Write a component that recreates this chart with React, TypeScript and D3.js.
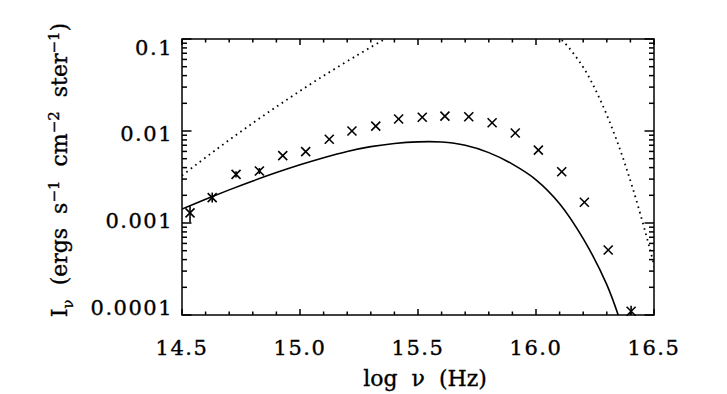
import React from 'react';
import * as d3 from 'd3';

// observed points: log nu (Hz) and I_nu
const obsNu = [14.534, 14.628, 14.729, 14.828, 14.927, 15.024, 15.124, 15.22, 15.321, 15.418,
  15.518, 15.614, 15.715, 15.814, 15.912, 16.01, 16.109, 16.205, 16.306, 16.403];
const obsFlux = [0.00129, 0.00189, 0.00338, 0.00367, 0.0054, 0.00596, 0.00813, 0.01, 0.0113, 0.0135,
  0.0141, 0.0145, 0.0143, 0.0123, 0.0095, 0.0062, 0.00361, 0.00168, 0.000509, 0.00011];
// error bars (NaN = none)
const errLow = [0.00101, 0.00167, 0.00313, 0.0034, NaN, NaN, NaN, NaN, NaN, NaN,
  NaN, NaN, NaN, NaN, NaN, NaN, NaN, NaN, NaN, 0.000097];
const errHigh = [0.00157, 0.00214, 0.00365, 0.00396, NaN, NaN, NaN, NaN, NaN, NaN,
  NaN, NaN, NaN, NaN, NaN, NaN, NaN, NaN, NaN, 0.000126];

// solid model curve
const modelNu = [14.5, 14.6, 14.7, 14.8, 14.9, 15.0, 15.1, 15.2, 15.3, 15.4,
  15.5, 15.6, 15.7, 15.8, 15.9, 16.0, 16.1, 16.2, 16.3, 16.36];
const modelFlux = [0.001419, 0.001811, 0.002291, 0.002864, 0.003532, 0.004295, 0.005129, 0.005998, 0.006761, 0.007328,
  0.007621, 0.007586, 0.006998, 0.005821, 0.004365, 0.002951, 0.001622, 0.000676, 0.000214, 0.0000813];

// dotted curve, rising and falling branches
const riseNu = [14.5, 14.65, 14.8, 14.95, 15.1, 15.25, 15.36, 15.45];
const riseFlux = [0.00328, 0.00643, 0.01219, 0.02239, 0.03981, 0.06839, 0.1, 0.1343];
const fallNu = [16.05, 16.113, 16.2, 16.271, 16.342, 16.412, 16.483, 16.52];
const fallFlux = [0.1233, 0.0951, 0.0492, 0.0221, 0.00793, 0.00229, 0.000518, 0.000217];

const xTicks = [14.5, 15.0, 15.5, 16.0, 16.5];
const xTickLabels = ['14.5', '15.0', '15.5', '16.0', '16.5'];
const yTicks = [0.0001, 0.001, 0.01, 0.1];
const yTickLabels = ['0.0001', '0.001', '0.01', '0.1'];

const W = 727;
const H = 394;
const left = 182, right = 654, top = 39, bottom = 315;
const font = '"DejaVu Serif", serif';

const App = () => {
  const x = d3.scaleLinear().domain([14.5, 16.5]).range([left, right]);
  const y = d3.scaleLog().domain([0.0001, 0.1]).range([bottom, top]);
  // tick labels in the original are spread a bit tighter than the ticks
  const yLab = d3.scaleLog().domain([0.0001, 0.1]).range([307, 47]);

  const xMinor = d3.range(14.5, 16.5001, 0.1).map((v) => Math.round(v * 10) / 10);
  const yMinor: number[] = [];
  [0.0001, 0.001, 0.01].forEach((d) => {
    for (let k = 2; k <= 9; k++) yMinor.push(d * k);
  });

  const line = d3.line<[number, number]>()
    .x((d) => x(d[0]))
    .y((d) => y(d[1]))
    .curve(d3.curveCatmullRom.alpha(0.5));

  const model = line(modelNu.map((v, i) => [v, modelFlux[i]]));
  const rise = line(riseNu.map((v, i) => [v, riseFlux[i]]));
  const fall = line(fallNu.map((v, i) => [v, fallFlux[i]]));

  const cs = 4.5;

  return (
    <svg width={W} height={H} style={{ position: 'absolute', left: 0, top: 0, background: '#fff' }}>
      <defs>
        <clipPath id="plot">
          <rect x={left} y={top} width={right - left} height={bottom - top} />
        </clipPath>
      </defs>

      <g clipPath="url(#plot)" fill="none" stroke="#000">
        <path d={model || ''} strokeWidth={1.6} />
        <path d={rise || ''} strokeWidth={1.8} strokeDasharray="1.6 4" />
        <path d={fall || ''} strokeWidth={1.8} strokeDasharray="1.6 4" />
      </g>

      <g stroke="#000" strokeWidth={1.6}>
        {obsNu.map((v, i) => {
          const px = x(v);
          const py = y(obsFlux[i]);
          return (
            <g key={i}>
              <line x1={px - cs} y1={py - cs} x2={px + cs} y2={py + cs} />
              <line x1={px - cs} y1={py + cs} x2={px + cs} y2={py - cs} />
              {!isNaN(errLow[i]) && (
                <line x1={px} x2={px} y1={Math.min(y(errLow[i]), bottom)} y2={y(errHigh[i])} />
              )}
            </g>
          );
        })}
      </g>

      {/* frame and ticks */}
      <g stroke="#000" strokeWidth={1.5}>
        <rect x={left} y={top} width={right - left} height={bottom - top} fill="none" />
        {xMinor.map((v) => {
          const major = xTicks.some((t) => Math.abs(t - v) < 1e-6);
          const len = major ? 6 : 3.5;
          return (
            <g key={'x' + v}>
              <line x1={x(v)} x2={x(v)} y1={bottom} y2={bottom - len} />
              <line x1={x(v)} x2={x(v)} y1={top} y2={top + len} />
            </g>
          );
        })}
        {yTicks.map((v) => (
          <g key={'ym' + v}>
            <line x1={left} x2={left + 9.5} y1={y(v)} y2={y(v)} />
            <line x1={right} x2={right - 9.5} y1={y(v)} y2={y(v)} />
          </g>
        ))}
        {yMinor.map((v) => (
          <g key={'yn' + v}>
            <line x1={left} x2={left + 5} y1={y(v)} y2={y(v)} />
            <line x1={right} x2={right - 5} y1={y(v)} y2={y(v)} />
          </g>
        ))}
      </g>

      <g fontFamily={font} fontSize={21} fill="#000" stroke="#000" strokeWidth={0.35} letterSpacing={1.5}>
        {xTicks.map((v, i) => (
          <text key={'xl' + v} x={x(v)} y={354.5} textAnchor="middle">{xTickLabels[i]}</text>
        ))}
        {yTicks.map((v, i) => (
          <text key={'yl' + v} x={173} y={yLab(v)} dy="0.36em" textAnchor="end">{yTickLabels[i]}</text>
        ))}
      </g>

      <text x={425} y={386} textAnchor="middle" fontFamily={font} fontSize={22} stroke="#000" strokeWidth={0.35}
        style={{ whiteSpace: 'pre' }}>
        {'log  ν  (Hz)'}
      </text>

      <text transform="translate(67,170) rotate(-90)" textAnchor="middle" fontFamily={font} fontSize={22}
        stroke="#000" strokeWidth={0.35} style={{ whiteSpace: 'pre' }}>
        I<tspan dy={6} fontSize={15}>ν</tspan>
        <tspan dy={-6}>{'  (ergs  s'}</tspan>
        <tspan dy={-8} fontSize={15}>−1</tspan>
        <tspan dy={8}>{'  cm'}</tspan>
        <tspan dy={-8} fontSize={15}>−2</tspan>
        <tspan dy={8}>{'  ster'}</tspan>
        <tspan dy={-8} fontSize={15}>−1</tspan>
        <tspan dy={8}>)</tspan>
      </text>
    </svg>
  );
};

export default App;
